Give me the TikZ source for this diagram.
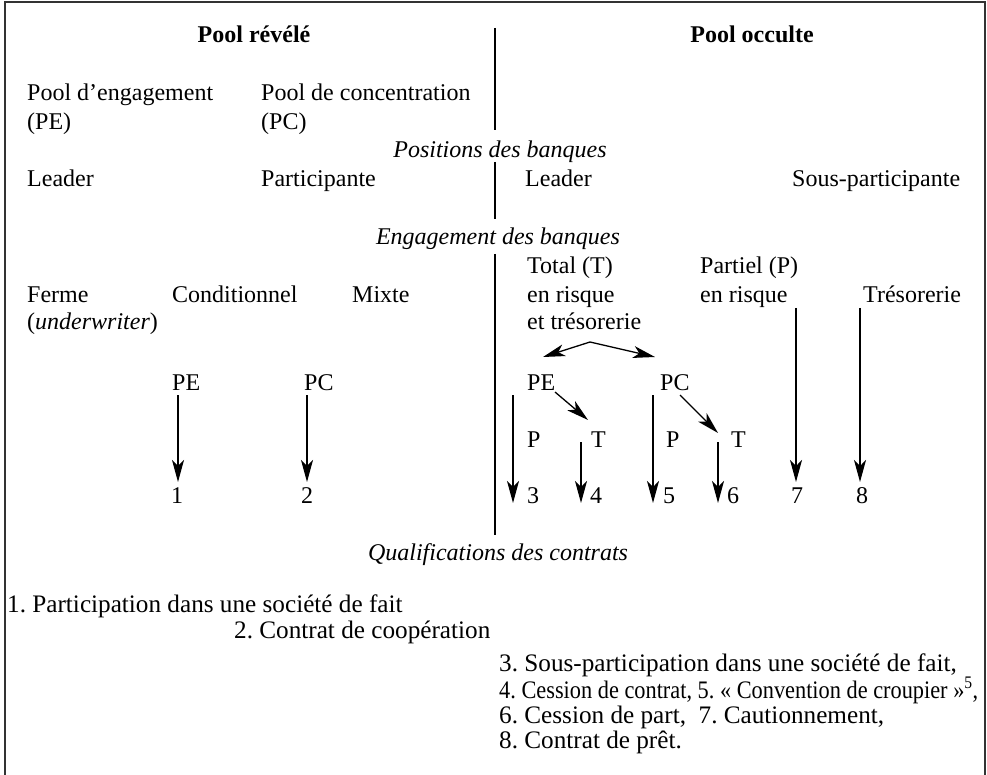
\documentclass[tikz,border=0pt]{standalone}
\usepackage{graphicx}
\usepackage{fontspec}
\setmainfont{Liberation Serif}
\usetikzlibrary{arrows.meta}
\frenchspacing
\begin{document}
\begin{tikzpicture}[x=1pt,y=-1pt,
  txt/.style={inner sep=0pt, anchor=base west, font=\fontsize{24}{29}\selectfont},
  ctr/.style={inner sep=0pt, anchor=base, font=\fontsize{24}{29}\selectfont},
  hd/.style={inner sep=0pt, anchor=base, font=\fontsize{24}{29}\selectfont\bfseries},
  itx/.style={inner sep=0pt, anchor=base, font=\fontsize{24}{29}\selectfont\itshape},
  bot/.style={inner sep=0pt, anchor=base west, font=\fontsize{25.2}{30}\selectfont},
  arr/.style={-{Stealth[length=22pt,width=12pt,inset=6pt]}, line width=1.3pt},
  vline/.style={line width=1.5pt},
  frame/.style={line width=2pt, black!80}]
\useasboundingbox (0,0) rectangle (987,775);
% frame
\draw[frame] (5,775) -- (5,2) -- (985,2) -- (985,775);
% headings
\node[hd] (revele) at (254,43) {Pool révélé};
\node[hd] (occulte) at (752,43) {Pool occulte};
% separators
\coordinate (v1a) at (495,28); \coordinate (v1b) at (495,130);
\coordinate (v2a) at (495,162); \coordinate (v2b) at (495,219);
\coordinate (v3a) at (495,254); \coordinate (v3b) at (495,535);
\draw[vline] (v1a) -- (v1b);
\draw[vline] (v2a) -- (v2b);
\draw[vline] (v3a) -- (v3b);
% pools
\node[txt] (pe) at (27,101) {Pool d’engagement};
\node[txt] (pel) at (27,130) {(PE)};
\node[txt] (pc) at (261,101) {Pool de concentration};
\node[txt] (pcl) at (261,130) {(PC)};
\node[itx] (pos) at (500,158) {Positions des banques};
\node[txt] (lead1) at (27,187) {Leader};
\node[txt] (part) at (261,187) {Participante};
\node[txt] (lead2) at (525,187) {Leader};
\node[txt] (souspart) at (792,187) {Sous-participante};
\node[itx] (eng) at (498,245) {Engagement des banques};
\node[txt] (total) at (527,274) {Total (T)};
\node[txt] (risk1) at (527,302) {en risque};
\node[txt] (treso1) at (527,330) {et trésorerie};
\node[txt] (partiel) at (700,274) {Partiel (P)};
\node[txt] (risk2) at (700,302) {en risque};
\node[txt] (treso2) at (863,302) {Trésorerie};
\node[txt] (ferme) at (27,302) {Ferme};
\node[txt] (under) at (27,330) {(\textit{underwriter})};
\node[txt] (cond) at (172,302) {Conditionnel};
\node[txt] (mixte) at (352,302) {Mixte};
% left branch
\node[txt] (lpe) at (172,390) {PE};
\node[txt] (lpc) at (304,390) {PC};
\node[ctr] (n1) at (177,503) {1};
\node[ctr] (n2) at (307,503) {2};
\coordinate (a1s) at (178,395); \coordinate (a1e) at (178,482);
\coordinate (a2s) at (307,395); \coordinate (a2e) at (307,482);
\draw[arr] (a1s) -- (a1e);
\draw[arr] (a2s) -- (a2e);
% right branch
\node[txt] (rpe) at (527,390) {PE};
\node[txt] (rpc) at (660,390) {PC};
\coordinate (apex) at (590,342);
\coordinate (tl) at (543,357);
\coordinate (tr) at (655,357);
\draw[arr] (apex) -- (tl);
\draw[arr] (apex) -- (tr);
\node[txt] (p1) at (527,447) {P};
\node[txt] (t1) at (591,447) {T};
\node[txt] (p2) at (666,447) {P};
\node[txt] (t2) at (731,447) {T};
\coordinate (d1s) at (555,392); \coordinate (d1e) at (588,420);
\coordinate (d2s) at (680,395); \coordinate (d2e) at (718,433);
\draw[arr] (d1s) -- (d1e);
\draw[arr] (d2s) -- (d2e);
\node[txt] (n3) at (527,503) {3};
\node[txt] (n4) at (590,503) {4};
\node[txt] (n5) at (663,503) {5};
\node[txt] (n6) at (727,503) {6};
\node[ctr] (n7) at (797,503) {7};
\node[ctr] (n8) at (862,503) {8};
\coordinate (a3s) at (513,395); \coordinate (a3e) at (513,503);
\coordinate (a4s) at (581,442); \coordinate (a4e) at (581,503);
\coordinate (a5s) at (653,395); \coordinate (a5e) at (653,503);
\coordinate (a6s) at (718,442); \coordinate (a6e) at (718,503);
\coordinate (a7s) at (796,308); \coordinate (a7e) at (796,482);
\coordinate (a8s) at (860,308); \coordinate (a8e) at (860,482);
\draw[arr] (a3s) -- (a3e);
\draw[arr] (a4s) -- (a4e);
\draw[arr] (a5s) -- (a5e);
\draw[arr] (a6s) -- (a6e);
\draw[arr] (a7s) -- (a7e);
\draw[arr] (a8s) -- (a8e);
% qualifications
\node[itx] (qual) at (498,560) {Qualifications des contrats};
\node[bot] (q1) at (7,612) {1. Participation dans une société de fait};
\node[bot] (q2) at (234,638) {2. Contrat de coopération};
\node[bot] (q3) at (499,671) {3. Sous-participation dans une société de fait,};
\node[bot] (q4) at (499,698) {\resizebox{479pt}{\height}{4. Cession de contrat, 5. « Convention de croupier »\textsuperscript{5},}};
\node[bot] (q6) at (499,723) {6. Cession de part,\ \ 7. Cautionnement,};
\node[bot] (q8) at (499,748) {8. Contrat de prêt.};
\end{tikzpicture}
\end{document}
